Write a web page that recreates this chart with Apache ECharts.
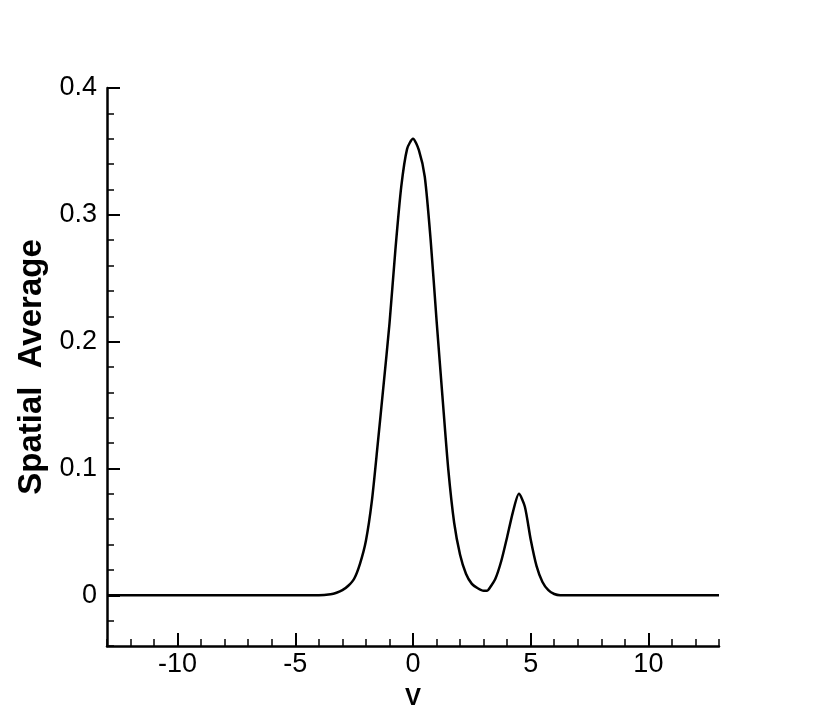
<!DOCTYPE html>
<html>
<head>
<meta charset="utf-8">
<script src="https://cdn.jsdelivr.net/npm/echarts@6/dist/echarts.min.js"></script>
<style>
html,body{margin:0;padding:0;background:#fff;}
#chart{width:818px;height:727px;}
</style>
</head>
<body>
<div id="chart"></div>
<script>
// Data
const vValues = [-13, -4, -3.5, -3.25, -3, -2.75, -2.5, -2.25, -2, -1.75, -1.5, -1.25, -1, -0.75, -0.5, -0.25, 0,
  0.25, 0.5, 0.75, 1, 1.25, 1.5, 1.75, 2, 2.25, 2.5, 2.75, 3, 3.15, 3.25, 3.5, 3.75, 4, 4.25, 4.5, 4.75,
  5, 5.25, 5.5, 5.75, 6, 6.25, 13];
const avgValues = [0, 0, 0.0008, 0.002, 0.004, 0.0075, 0.013, 0.025, 0.043, 0.074, 0.119, 0.166, 0.214, 0.272, 0.322, 0.352, 0.36,
  0.351, 0.33, 0.28, 0.217, 0.157, 0.099, 0.057, 0.032, 0.017, 0.009, 0.0055, 0.0035, 0.0035, 0.0055, 0.013, 0.027, 0.046, 0.066, 0.08, 0.07,
  0.044, 0.023, 0.0105, 0.004, 0.001, 0, 0];
const xMajorTicks = [-10, -5, 0, 5, 10];
const yMajorTicks = [0, 0.1, 0.2, 0.3, 0.4];
const xTitle = 'V';
const yTitle = 'Spatial  Average';

const chart = echarts.init(document.getElementById('chart'), null, {renderer: 'canvas'});
const font = 'Liberation Sans, Arial, sans-serif';
const axisLineStyle = {color: '#000', width: 2.5};
const option = {
  animation: false,
  backgroundColor: '#fff',
  grid: {left: 107, right: 99, top: 88, bottom: 81, containLabel: false},
  xAxis: [
    {
      type: 'value', min: -13, max: 13, interval: 1,
      axisLine: {show: true, onZero: false, lineStyle: axisLineStyle},
      axisTick: {show: true, inside: true, length: 7, lineStyle: {color: '#000', width: 1.5}},
      axisLabel: {show: false},
      splitLine: {show: false}
    },
    {
      type: 'value', min: -13, max: 13, position: 'bottom',
      axisLine: {show: false, onZero: false},
      axisTick: {show: true, inside: true, length: 13, customValues: xMajorTicks, lineStyle: {color: '#000', width: 2}},
      axisLabel: {show: true, customValues: xMajorTicks, margin: 5, color: '#000', fontSize: 27, fontFamily: font},
      splitLine: {show: false},
      name: xTitle, nameLocation: 'middle', nameGap: 40,
      nameTextStyle: {color: '#000', fontSize: 24, fontWeight: 'bold', fontFamily: font}
    }
  ],
  yAxis: [
    {
      type: 'value', min: -0.04, max: 0.4, interval: 0.02,
      axisLine: {show: true, onZero: false, lineStyle: axisLineStyle},
      axisTick: {show: true, inside: true, length: 7, lineStyle: {color: '#000', width: 1.5}},
      axisLabel: {show: false},
      splitLine: {show: false}
    },
    {
      type: 'value', min: -0.04, max: 0.4, position: 'left',
      axisLine: {show: false, onZero: false},
      axisTick: {show: true, inside: true, length: 13, customValues: yMajorTicks, lineStyle: {color: '#000', width: 2}},
      axisLabel: {show: true, customValues: yMajorTicks, margin: 10, color: '#000', fontSize: 27, fontFamily: font,
        formatter: v => (Math.abs(v) < 1e-9 ? '0' : String(Math.round(v * 10) / 10))},
      splitLine: {show: false},
      name: yTitle, nameLocation: 'middle', nameGap: 57, nameRotate: 90,
      nameTextStyle: {color: '#000', fontSize: 33, fontWeight: 'bold', fontFamily: font}
    }
  ],
  series: [{
    type: 'line',
    xAxisIndex: 0, yAxisIndex: 0,
    data: vValues.map((v, i) => [v, avgValues[i]]),
    showSymbol: false,
    smooth: 0.25,
    lineStyle: {color: '#000', width: 2.5},
    z: 5
  }]
};
chart.setOption(option);
</script>
</body>
</html>
